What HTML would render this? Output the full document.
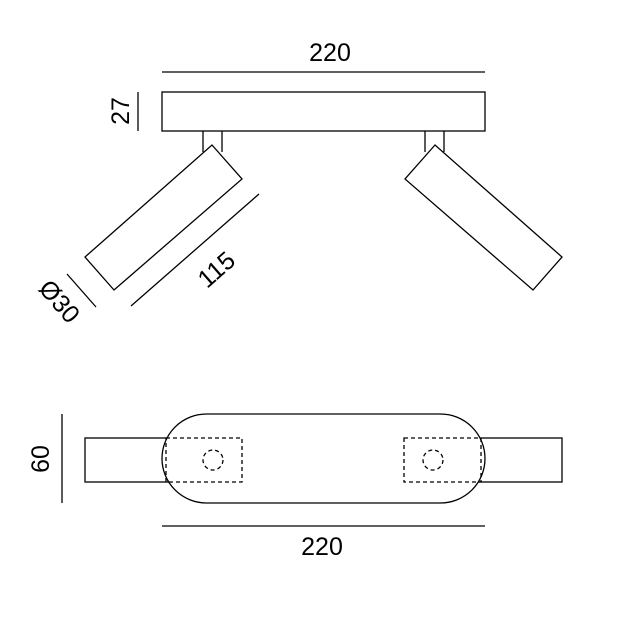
<!DOCTYPE html>
<html><head><style>body{margin:0;background:#fff}svg{display:block}</style></head><body>
<svg width="638" height="638" viewBox="0 0 638 638" xmlns="http://www.w3.org/2000/svg" font-family="Liberation Sans, sans-serif" font-size="25" fill="none" stroke="#000" stroke-width="1.3">
<rect width="638" height="638" fill="#fff" stroke="none"/>
<line x1="162" y1="72" x2="485" y2="72"/>
<text x="330" y="61" text-anchor="middle" fill="#000" stroke="none">220</text>
<line x1="138" y1="92" x2="138" y2="131"/>
<text transform="translate(129,111) rotate(-90)" text-anchor="middle" fill="#000" stroke="none">27</text>
<rect x="162" y="92" width="323" height="39"/>
<line x1="203" y1="131" x2="203" y2="152"/><line x1="222" y1="131" x2="222" y2="152"/>
<line x1="425" y1="131" x2="425" y2="152"/><line x1="444" y1="131" x2="444" y2="152"/>
<polygon points="212,145 242,179 114,290 85,257" fill="#fff"/>
<polygon points="435,145 405,179 533,290 562,257" fill="#fff"/>
<line x1="259" y1="194" x2="131" y2="306"/>
<text transform="translate(222,276) rotate(-41)" text-anchor="middle" fill="#000" stroke="none">115</text>
<line x1="67" y1="274" x2="96" y2="307"/>
<text transform="translate(53,307) rotate(49)" text-anchor="middle" fill="#000" stroke="none">Ø30</text>
<line x1="62" y1="414" x2="62" y2="503"/>
<text transform="translate(49,459) rotate(-90)" text-anchor="middle" fill="#000" stroke="none">60</text>
<rect x="85" y="438" width="477" height="44"/>
<rect x="162" y="414" width="323" height="89" rx="44.5" ry="44.5" fill="#fff"/>
<g stroke-dasharray="4,3">
<rect x="166" y="438" width="76" height="44"/>
<circle cx="213" cy="460" r="10"/>
<rect x="404" y="438" width="77" height="44"/>
<circle cx="433" cy="460" r="10"/>
</g>
<line x1="162" y1="526" x2="485" y2="526"/>
<text x="322" y="555" text-anchor="middle" fill="#000" stroke="none">220</text>
</svg>
</body></html>
